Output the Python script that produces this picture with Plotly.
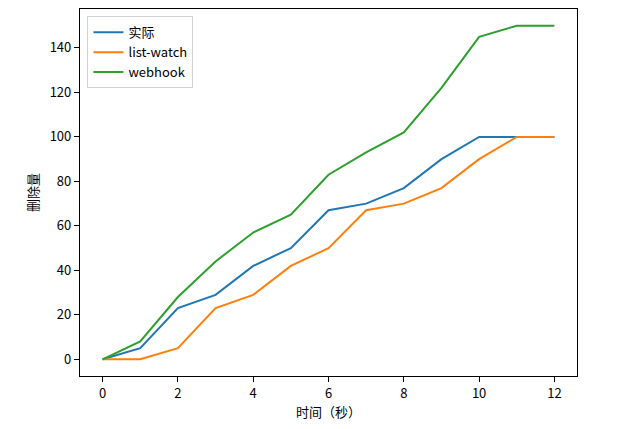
import plotly.graph_objects as go

seconds = [0, 1, 2, 3, 4, 5, 6, 7, 8, 9, 10, 11, 12]
actual = [0, 5, 23, 29, 42, 50, 67, 70, 77, 90, 100, 100, 100]
list_watch = [0, 0, 5, 23, 29, 42, 50, 67, 70, 77, 90, 100, 100]
webhook = [0, 8, 28, 44, 57, 65, 83, 93, 102, 122, 145, 150, 150]

series = [
    ("实际", actual, "#1f77b4"),
    ("list-watch", list_watch, "#ff7f0e"),
    ("webhook", webhook, "#2ca02c"),
]

fig = go.Figure()
for name, vals, color in series:
    fig.add_trace(
        go.Scatter(
            x=seconds,
            y=vals,
            mode="lines",
            name=name,
            line=dict(color=color, width=2),
        )
    )

axis_style = dict(
    showline=True,
    linecolor="black",
    linewidth=1.2,
    mirror=True,
    ticks="outside",
    ticklen=5,
    tickcolor="black",
    showgrid=False,
    zeroline=False,
    tickfont=dict(size=13),
)

# page body has an 8px margin, so the figure is a bit smaller than the window
fig.update_layout(
    width=632,
    height=421,
    paper_bgcolor="white",
    plot_bgcolor="white",
    font=dict(family="Noto Sans CJK SC, DejaVu Sans", size=13, color="black"),
    margin=dict(l=72, r=63, t=1, b=53),
    xaxis=dict(
        range=[-0.6, 12.6],
        tickvals=[0, 2, 4, 6, 8, 10, 12],
        title=dict(text="时间（秒）", standoff=4, font=dict(size=13)),
        **axis_style,
    ),
    yaxis=dict(
        range=[-7.5, 157.5],
        tickvals=[0, 20, 40, 60, 80, 100, 120, 140],
        title=dict(text="删除量", standoff=8, font=dict(size=13)),
        **axis_style,
    ),
    legend=dict(
        x=0.015,
        y=0.98,
        xanchor="left",
        yanchor="top",
        bgcolor="rgba(255,255,255,0.8)",
        bordercolor="#d0d0d0",
        borderwidth=1,
        font=dict(size=13),
    ),
    showlegend=True,
)

fig.write_html("out.html")
